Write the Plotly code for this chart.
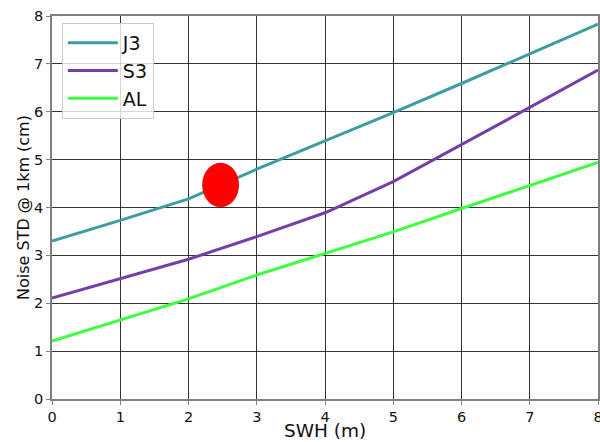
import plotly.graph_objects as go

# Significant wave height (m)
swh = [0, 1, 2, 3, 4, 5, 6, 7, 8]

# Range noise standard deviation at 1 km posting (cm)
noise_j3 = [3.30, 3.73, 4.18, 4.80, 5.39, 5.98, 6.59, 7.21, 7.83]
noise_s3 = [2.11, 2.52, 2.92, 3.39, 3.89, 4.54, 5.31, 6.09, 6.87]
noise_al = [1.21, 1.65, 2.09, 2.59, 3.04, 3.49, 3.98, 4.46, 4.94]

series_names = ["J3", "S3", "AL"]
series_colors = ["#3d9e9f", "#7440a8", "#3dff3d"]

# Highlighted point (centre and half-widths, in data units)
spot_x, spot_y = 2.47, 4.47
spot_rx, spot_ry = 0.27, 0.465

x_ticks = [0, 1, 2, 3, 4, 5, 6, 7, 8]
y_ticks = [0, 1, 2, 3, 4, 5, 6, 7, 8]

x_label = "SWH (m)"
y_label = "Noise STD @ 1km (cm)"

fig = go.Figure()
for name, ys, color in zip(series_names, [noise_j3, noise_s3, noise_al], series_colors):
    fig.add_trace(go.Scatter(x=swh, y=ys, mode="lines", name=name,
                             line=dict(color=color, width=3)))

fig.add_shape(type="circle", xref="x", yref="y",
              x0=spot_x - spot_rx, x1=spot_x + spot_rx,
              y0=spot_y - spot_ry, y1=spot_y + spot_ry,
              fillcolor="#ff0000", line=dict(width=0), layer="above")

# x-axis label placed at the bottom edge of the figure
fig.add_annotation(text=x_label, xref="paper", yref="paper", x=0.5, y=0,
                   xanchor="center", yanchor="bottom", yshift=-44,
                   showarrow=False, font=dict(size=18.5, color="#111111"))

axis_common = dict(
    showline=True, linecolor="#808080", linewidth=1.5, mirror=True,
    showgrid=True, gridcolor="rgba(0,0,0,0.8)", gridwidth=1,
    ticks="outside", ticklen=4, tickcolor="#808080",
    tickfont=dict(size=14.5, color="#111111"),
    ticklabeloverflow="allow",
    zeroline=False, automargin=False,
)

fig.update_layout(
    width=600, height=442,
    margin=dict(l=52, r=2, t=16, b=43),
    paper_bgcolor="white", plot_bgcolor="white",
    font=dict(family="DejaVu Sans", color="#111111"),
    xaxis=dict(range=[0, 8], tickvals=x_ticks, **axis_common),
    yaxis=dict(range=[0, 8], tickvals=y_ticks,
               title=dict(text=y_label, font=dict(size=16), standoff=1),
               **axis_common),
    legend=dict(x=0.018, y=0.982, xanchor="left", yanchor="top",
                bgcolor="rgba(255,255,255,0.8)", bordercolor="#cccccc", borderwidth=1,
                font=dict(size=19), tracegroupgap=0, itemwidth=50),
    showlegend=True,
)

fig.write_html("out.html")
